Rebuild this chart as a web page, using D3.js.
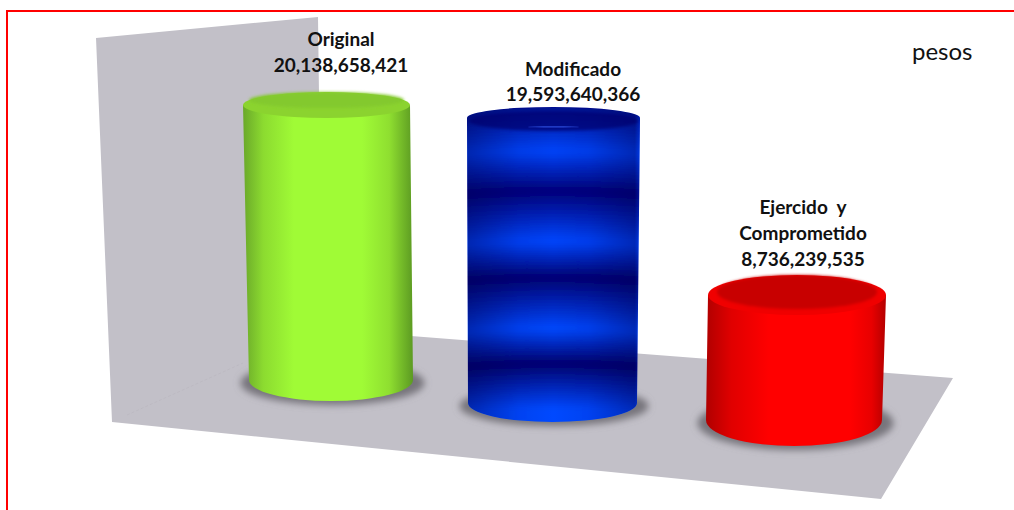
<!DOCTYPE html>
<html><head><meta charset="utf-8">
<script src="https://cdn.jsdelivr.net/npm/d3@7"></script>
<style>html,body{margin:0;background:#fff}svg{display:block}
text{font-family:Lato,"Open Sans",sans-serif;fill:#111}</style></head>
<body><svg id="c" width="1014" height="510"></svg>
<script>
const categories = ["Original", "Modificado", "Ejercido  y|Comprometido"];
const values = [20138658421, 19593640366, 8736239535];
const unit = "pesos";
// perspective layout of each cylinder (not data)
const depth = [1, 1.0655, 1.048];
const baseY = [380, 403, 420];
const xTop = [[243,410],[467,640],[708,886]];
const xBot = [[249,413],[468,637],[706,882]];
const capRy = [13, 11, 20];
const botRy = [21, 19, 26];
const labelX = [341, 573, 803];
const labelY = [46, 76, 214];
const svg = d3.select("#c");
const heightScale = d3.scaleLinear().domain([0, 20138658421]).range([0, 275]);
const defs = svg.append("defs");
defs.append("filter").attr("id","blur").attr("x","-20%").attr("y","-40%").attr("width","140%").attr("height","180%")
  .append("feGaussianBlur").attr("stdDeviation",3.5);
defs.append("filter").attr("id","bandblur").attr("x","-5%").attr("y","-5%").attr("width","110%").attr("height","110%")
  .append("feGaussianBlur").attr("stdDeviation",3);
defs.append("filter").attr("id","capblur").attr("x","-10%").attr("y","-40%").attr("width","120%").attr("height","180%")
  .append("feGaussianBlur").attr("stdDeviation",1.6);

function hGrad(id, stops){
  const g = defs.append("linearGradient").attr("id",id);
  stops.forEach(([o,c,a])=>g.append("stop").attr("offset",o).attr("stop-color",c).attr("stop-opacity",a==null?1:a));
}
hGrad("g0",[[0,"#6aa82a"],[0.12,"#8cdb30"],[0.3,"#a0fb36"],[0.7,"#a0fb36"],[0.86,"#8fdf30"],[1,"#5c9a22"]]);
hGrad("g2",[[0,"#b00000"],[0.14,"#e00000"],[0.35,"#ff0000"],[0.8,"#ff0000"],[0.92,"#e80000"],[1,"#b40000"]]);
hGrad("s1",[[0,"#000050",0.42],[0.3,"#000050",0.08],[0.5,"#000050",0],[0.7,"#000050",0.08],[0.97,"#000050",0.38],[1,"#0030d0",0.4]]);

// floor and wall
const bg = [[96,38],[318,17],[322,329],[411,336],[953,378],[881,499],[112,422]];
svg.append("path").attr("d",d3.line()(bg)).attr("fill","#c2c0c8");
svg.append("line").attr("x1",127).attr("y1",415).attr("x2",243).attr("y2",363)
  .attr("stroke","#b8b6be").attr("stroke-width",0.6).attr("stroke-dasharray","3 2");

// frame
svg.append("path").attr("d","M7 510V11H1014").attr("fill","none").attr("stroke","#ff0000").attr("stroke-width",2);

// blue band colours by fraction of height (top->bottom)
const blueStops = [[0,"#000070"],[0.184,"#0044fa"],[0.31,"#000078"],[0.47,"#0046ff"],[0.584,"#000070"],[0.746,"#0048ff"],[0.857,"#00006c"],[1,"#0048ff"]];
const blueColor = d3.scaleLinear().domain(blueStops.map(d=>d[0])).range(blueStops.map(d=>d[1])).interpolate(d3.interpolateRgb).clamp(true);

const capFill = ["#83c92d","#00006e","#c80000"];
const rimFill = ["#8bd32f","#00107e","#f00000"];

values.forEach((v,i)=>{
  const h = heightScale(v)*depth[i];
  const ye = baseY[i], ys = ye-h;
  const [xl,xr]=xTop[i],[bl,br]=xBot[i];
  const rt=(xr-xl)/2, rb=(br-bl)/2, cx=(xl+xr)/2, cb=(bl+br)/2;
  // shadow
  svg.append("ellipse").attr("cx",cb+1.5).attr("cy",ye+3).attr("rx",rb+10).attr("ry",botRy[i]+1)
    .attr("fill","#77757c").attr("filter","url(#blur)");
  const sil=`M${xl},${ys}A${rt},${capRy[i]} 0 0 1 ${xr},${ys}L${br},${ye}A${rb},${botRy[i]} 0 0 1 ${bl},${ye}Z`;
  const bodyD=`M${xl},${ys}L${xr},${ys}L${br},${ye}A${rb},${botRy[i]} 0 0 1 ${bl},${ye}Z`;
  if(i===1){
    const cid="clip"+i;
    defs.append("clipPath").attr("id",cid).append("path").attr("d",sil);
    const outer=svg.append("g").attr("clip-path",`url(#${cid})`);
    const g=outer.append("g").attr("filter","url(#bandblur)");
    const y0=ys-capRy[i], y1=ye+botRy[i];
    const slices=d3.range(y0-10,y1+10,1);
    g.selectAll("ellipse").data(slices).join("ellipse")
      .attr("cx",cb).attr("cy",d=>d-7).attr("rx",rb+24).attr("ry",7)
      .attr("fill",d=>blueColor((d-y0)/(y1-y0)));
    outer.append("path").attr("d",sil).attr("fill","url(#s1)");
    svg.append("ellipse").attr("cx",cx).attr("cy",ys+3).attr("rx",rt-2).attr("ry",capRy[i]-1)
      .attr("fill",capFill[i]).attr("opacity",0.7).attr("filter","url(#capblur)").attr("clip-path",`url(#${cid})`);
    svg.append("ellipse").attr("cx",cx).attr("cy",ys+9).attr("rx",26).attr("ry",0.6).attr("fill","#2a4ad8");
  } else {
    svg.append("path").attr("d",bodyD).attr("fill",`url(#g${i})`);
    svg.append("ellipse").attr("cx",cx).attr("cy",ys).attr("rx",rt).attr("ry",capRy[i]).attr("fill",rimFill[i]);
    svg.append("ellipse").attr("cx",cx).attr("cy",ys+(i===0?-5:-3)).attr("rx",rt-(i===0?6:9)).attr("ry",capRy[i]-(i===0?5:3))
      .attr("fill",capFill[i]).attr("filter","url(#capblur)");
  }
});

// labels
values.forEach((v,i)=>{
  const lines=categories[i].split("|").concat(d3.format(",")(v));
  const gap = i===1 ? 24.5 : 26;
  const t=svg.append("text").attr("text-anchor","middle").attr("font-weight",700).attr("font-size",19).attr("xml:space","preserve").style("white-space","pre");
  lines.forEach((s,j)=>t.append("tspan").attr("x",labelX[i]).attr("y",labelY[i]+j*gap).text(s));
});
svg.append("text").attr("x",912).attr("y",60).attr("font-size",24).text(unit);
</script></body></html>
